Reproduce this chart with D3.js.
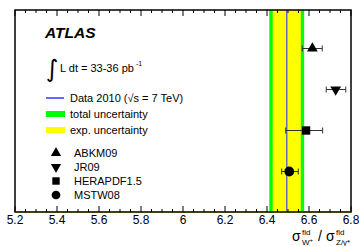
<!DOCTYPE html>
<html>
<head>
<style>
body { margin: 0; padding: 0; background: #fff; }
svg { display: block; font-family: "Liberation Sans", Arial, sans-serif; }
</style>
<script src="https://d3js.org/d3.v7.min.js"></script>
</head>
<body>
<svg id="chart" width="359" height="246"></svg>
<script>
// measured ratio and its bands
const dataValue = 6.494;
const expErr = 0.067;
const totErr = 0.083;

// theory predictions
const pdfNames = ["ABKM09", "JR09", "HERAPDF1.5", "MSTW08"];
const pdfValues = [6.616, 6.727, 6.586, 6.506];
const pdfErrLow = [0.048, 0.045, 0.097, 0.036];
const pdfErrHigh = [0.047, 0.048, 0.079, 0.043];
const pdfSymbols = ["triangle", "triangleDown", "square", "circle"];

const xTicks = [5.2, 5.4, 5.6, 5.8, 6.0, 6.2, 6.4, 6.6, 6.8];

const svg = d3.select("#chart");
const pL = 15, pR = 351, pT = 10, pB = 212;

const x = d3.scaleLinear().domain([5.2, 6.8]).range([pL, pR]);
const y = d3.scalePoint().domain(pdfNames).range([48.5, 171.5]);

function sym(name, size) {
  const types = {
    triangle: d3.symbolTriangle,
    triangleDown: d3.symbolTriangle,
    square: d3.symbolSquare,
    circle: d3.symbolCircle
  };
  return d3.symbol().type(types[name]).size(size)();
}

// bands
svg.append("rect")
  .attr("x", x(dataValue - totErr)).attr("y", pT)
  .attr("width", x(dataValue + totErr) - x(dataValue - totErr))
  .attr("height", pB - pT)
  .attr("fill", "#00ff00");
svg.append("rect")
  .attr("x", x(dataValue - expErr)).attr("y", pT)
  .attr("width", x(dataValue + expErr) - x(dataValue - expErr))
  .attr("height", pB - pT)
  .attr("fill", "#ffff00");
svg.append("line")
  .attr("x1", x(dataValue)).attr("x2", x(dataValue))
  .attr("y1", pT).attr("y2", pB)
  .attr("stroke", "#6b6bb0").attr("stroke-width", 1.5);

// error bars
const pts = svg.append("g");
pdfNames.forEach((n, i) => {
  const yy = y(n);
  const x0 = x(pdfValues[i] - pdfErrLow[i]);
  const x1 = x(pdfValues[i] + pdfErrHigh[i]);
  pts.append("line").attr("x1", x0).attr("x2", x1).attr("y1", yy).attr("y2", yy)
    .attr("stroke", "#333").attr("stroke-width", 1);
  [x0, x1].forEach(xx => {
    pts.append("line").attr("x1", xx).attr("x2", xx).attr("y1", yy - 3).attr("y2", yy + 3)
      .attr("stroke", "#333").attr("stroke-width", 1);
  });
  const sz = pdfSymbols[i] === "circle" ? 75 : (pdfSymbols[i] === "square" ? 70 : 50);
  pts.append("path")
    .attr("d", sym(pdfSymbols[i], sz))
    .attr("transform", `translate(${x(pdfValues[i])},${yy})` + (pdfSymbols[i] === "triangleDown" ? " rotate(180)" : ""))
    .attr("fill", "#000");
});

// frame
svg.append("rect")
  .attr("x", pL).attr("y", pT)
  .attr("width", pR - pL).attr("height", pB - pT)
  .attr("fill", "none").attr("stroke", "#000").attr("stroke-width", 1.5);
svg.append("line")
  .attr("x1", pL).attr("x2", pR).attr("y1", pB).attr("y2", pB)
  .attr("stroke", "#3f3f14").attr("stroke-width", 2);

// ticks on bottom and top
const minor = d3.range(5.2, 6.8001, 0.05);
minor.forEach(v => {
  const isMajor = xTicks.some(t => Math.abs(t - v) < 1e-6);
  const len = isMajor ? 6 : 3;
  svg.append("line").attr("x1", x(v)).attr("x2", x(v))
    .attr("y1", pB).attr("y2", pB - len)
    .attr("stroke", "#000").attr("stroke-width", 1);
  svg.append("line").attr("x1", x(v)).attr("x2", x(v))
    .attr("y1", pT).attr("y2", pT + len)
    .attr("stroke", "#000").attr("stroke-width", 1);
});

svg.append("g").selectAll("text").data(xTicks).join("text")
  .attr("x", d => x(d)).attr("y", 224)
  .attr("text-anchor", "middle")
  .attr("font-size", 12)
  .text(d => d3.format("")(+d.toFixed(1)));

// axis title, pieces placed one by one
const title = svg.append("g").attr("font-size", 14);
title.append("text").attr("x", 292).attr("y", 241).text("σ");
title.append("text").attr("x", 302).attr("y", 235).attr("font-size", 8).text("fid");
const wsub = title.append("text").attr("x", 302).attr("y", 245).attr("font-size", 8);
wsub.append("tspan").text("W");
wsub.append("tspan").attr("font-size", 6).attr("dy", -3).text("+");
title.append("text").attr("x", 318).attr("y", 241).text("/");
title.append("text").attr("x", 326).attr("y", 241).text("σ");
title.append("text").attr("x", 336).attr("y", 235).attr("font-size", 8).text("fid");
title.append("text").attr("x", 336).attr("y", 245).attr("font-size", 8).text("Z/γ*");

// labels
svg.append("text").attr("x", 45).attr("y", 38)
  .attr("font-size", 15.5).attr("font-weight", "bold").attr("font-style", "italic")
  .text("ATLAS");
svg.append("text").attr("x", 46).attr("y", 77)
  .attr("font-size", 24).attr("font-family", "DejaVu Sans")
  .text("∫");
const lum = svg.append("text").attr("x", 60).attr("y", 72).attr("font-size", 11);
lum.append("tspan").text("L dt = 33-36 pb");
lum.append("tspan").attr("font-size", 7).attr("dy", -6).attr("dx", 2).text("-1");

// legend
svg.append("line").attr("x1", 46).attr("x2", 64).attr("y1", 98).attr("y2", 98)
  .attr("stroke", "#0000ff").attr("stroke-width", 1.2);
svg.append("text").attr("x", 70).attr("y", 102).attr("font-size", 11)
  .text("Data 2010 (√s = 7 TeV)");
svg.append("rect").attr("x", 46).attr("y", 111).attr("width", 19).attr("height", 6).attr("fill", "#00ff00");
svg.append("text").attr("x", 70).attr("y", 118).attr("font-size", 11).text("total uncertainty");
svg.append("rect").attr("x", 46).attr("y", 127).attr("width", 19).attr("height", 6).attr("fill", "#ffff00");
svg.append("text").attr("x", 70).attr("y", 134).attr("font-size", 11).text("exp. uncertainty");

const legY = d3.scalePoint().domain(pdfNames).range([153, 195]);
pdfNames.forEach((n, i) => {
  const sz = pdfSymbols[i] === "circle" ? 60 : (pdfSymbols[i] === "square" ? 55 : 45);
  svg.append("path")
    .attr("d", sym(pdfSymbols[i], sz))
    .attr("transform", `translate(56,${legY(n)})` + (pdfSymbols[i] === "triangleDown" ? " rotate(180)" : ""))
    .attr("fill", "#000");
  svg.append("text").attr("x", 74).attr("y", legY(n) + 4).attr("font-size", 11).text(n);
});
</script>
</body>
</html>
